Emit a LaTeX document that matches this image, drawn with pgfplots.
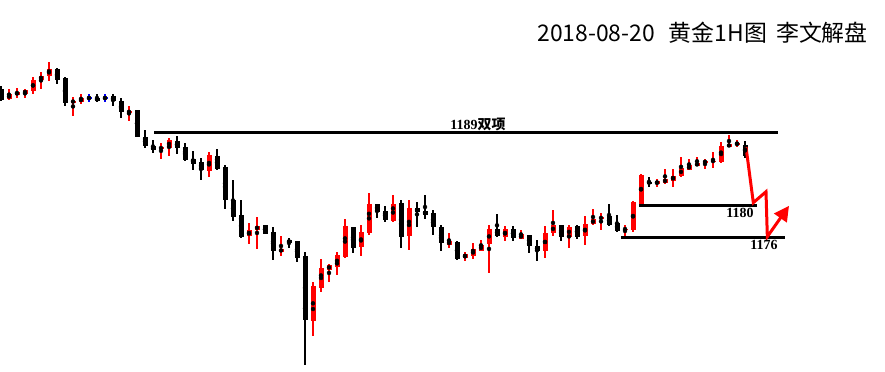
\documentclass[border=0pt]{standalone}
\usepackage{pgfplots}
\usepackage{pgfplotstable}
\pgfplotsset{compat=1.18}
\usepackage{fontspec}
\setmainfont{Liberation Serif}
\newfontfamily\cjk{Noto Sans CJK SC}
\usetikzlibrary{arrows.meta}

% x o h l c
\pgfplotstableread{
x o h l c
1 1193.25 1194.50 1193.13 1193.88
2 1193.75 1194.63 1193.38 1194.13
3 1193.91 1194.54 1193.38 1194.34
4 1194.29 1196.00 1193.91 1195.63
5 1195.66 1196.63 1194.54 1196.13
6 1196.16 1197.88 1195.54 1197.00
9 1192.88 1193.50 1191.16 1193.00
10 1192.88 1193.88 1192.66 1193.38
16 1191.54 1192.38 1190.54 1191.79
20 1187.04 1187.75 1185.79 1187.25
21 1187.16 1188.38 1186.16 1188.13
26 1184.29 1186.63 1183.54 1186.25
31 1176.16 1177.75 1175.16 1176.88
32 1176.91 1178.50 1174.54 1177.38
35 1174.16 1176.13 1173.66 1174.50
39 1165.54 1170.38 1163.66 1169.88
40 1169.66 1173.25 1169.16 1172.13
41 1171.91 1172.63 1170.41 1172.50
42 1172.29 1174.13 1171.29 1173.75
43 1173.50 1178.25 1173.41 1177.38
45 1174.79 1177.50 1173.66 1176.63
46 1176.54 1181.50 1176.29 1180.13
49 1178.00 1181.25 1177.91 1180.13
51 1176.16 1180.63 1174.41 1179.63
56 1175.04 1176.50 1174.66 1175.50
58 1173.41 1174.13 1173.04 1173.88
59 1173.66 1175.25 1173.29 1174.50
60 1174.29 1175.63 1174.29 1175.00
61 1175.16 1177.50 1171.54 1177.00
63 1176.04 1177.38 1175.54 1177.00
65 1175.79 1176.88 1175.79 1176.38
68 1174.29 1177.38 1173.41 1176.50
69 1176.54 1179.38 1176.16 1177.50
71 1176.04 1177.50 1174.66 1177.25
73 1176.16 1178.63 1175.04 1177.63
74 1177.63 1179.50 1177.50 1178.25
75 1178.29 1179.00 1176.91 1178.50
78 1176.96 1177.50 1176.04 1177.04
79 1176.91 1180.50 1176.66 1180.38
80 1180.16 1183.88 1180.16 1183.75
82 1182.66 1183.25 1182.29 1183.00
83 1182.79 1184.50 1182.66 1183.25
84 1183.04 1184.50 1182.29 1183.63
85 1183.66 1186.00 1183.54 1184.63
86 1184.41 1185.75 1184.41 1185.00
87 1184.91 1186.00 1184.91 1185.25
88 1185.29 1185.75 1184.54 1185.50
89 1185.46 1186.63 1184.66 1185.54
90 1185.38 1187.88 1185.25 1187.38
91 1187.25 1188.75 1187.25 1187.63
92 1187.50 1188.13 1187.25 1187.75
}\redcandles

\pgfplotstableread{
x o h l c
0 1194.50 1194.88 1193.00 1193.13
7 1197.00 1197.13 1195.16 1195.66
8 1195.88 1196.00 1192.41 1192.79
12 1193.38 1193.88 1192.88 1193.04
14 1193.63 1193.88 1192.41 1193.04
15 1193.00 1193.38 1190.91 1191.66
17 1191.88 1191.88 1188.50 1188.54
18 1188.50 1189.38 1187.13 1187.41
19 1187.34 1188.13 1186.54 1186.88
22 1188.00 1188.66 1186.41 1187.16
23 1187.25 1187.75 1185.54 1185.58
24 1185.75 1186.75 1184.41 1185.16
25 1185.38 1185.88 1183.16 1184.41
27 1186.13 1187.00 1184.41 1184.50
28 1184.75 1185.00 1179.54 1180.66
29 1180.63 1183.13 1178.04 1178.54
30 1178.75 1180.63 1175.91 1176.04
33 1177.50 1177.50 1176.41 1176.41
34 1176.63 1177.25 1173.13 1174.29
36 1175.63 1175.88 1174.66 1175.29
37 1175.50 1175.50 1172.91 1173.41
38 1173.63 1174.13 1160.04 1165.66
44 1177.25 1177.25 1174.04 1174.66
47 1180.13 1180.13 1178.41 1179.16
48 1179.25 1179.88 1177.91 1178.13
50 1180.25 1180.63 1174.66 1176.04
52 1179.63 1180.38 1177.29 1179.16
53 1179.25 1181.25 1178.25 1178.79
54 1179.00 1179.38 1176.29 1177.29
55 1177.25 1177.50 1174.29 1175.21
57 1175.41 1175.50 1173.13 1173.29
62 1177.00 1178.88 1176.04 1176.16
64 1177.00 1177.38 1175.54 1175.91
66 1176.25 1176.25 1174.04 1174.91
67 1174.88 1175.63 1173.04 1174.29
70 1177.50 1177.50 1175.54 1176.04
72 1177.38 1177.50 1175.79 1176.04
76 1178.63 1180.13 1177.38 1177.50
77 1177.75 1178.75 1176.66 1176.79
81 1182.83 1183.50 1182.29 1182.75
93 1187.50 1188.00 1185.88 1186.13
}\blackcandles

\pgfplotstableread{
x o h l c
11 1193.38 1193.88 1192.88 1193.38
13 1193.38 1193.88 1192.88 1193.38
}\bluecandles

\pgfplotsset{
  wick/.style={only marks, mark=none, forget plot,
    error bars/.cd, y dir=both, y explicit, error mark=none,
    error bar style={line width=1.1bp, #1}},
  body/.style={only marks, mark=none, forget plot,
    error bars/.cd, y dir=both, y explicit, error mark=none,
    error bar style={line width=5bp, #1}},
}

\begin{document}
\begin{tikzpicture}
\begin{axis}[
  scale only axis, width=885bp, height=372bp,
  xmin=-0.125, xmax=110.5, ymin=1159.125, ymax=1205.625,
  hide axis, clip=false,
]
% wicks
\addplot[wick=red] table[x=x, y expr=(\thisrow{h}+\thisrow{l})/2, y error expr=(\thisrow{h}-\thisrow{l})/2] {\redcandles};
\addplot[wick=black] table[x=x, y expr=(\thisrow{h}+\thisrow{l})/2, y error expr=(\thisrow{h}-\thisrow{l})/2] {\blackcandles};
\addplot[wick=blue] table[x=x, y expr=(\thisrow{h}+\thisrow{l})/2, y error expr=(\thisrow{h}-\thisrow{l})/2] {\bluecandles};
% bodies
\addplot[body=red] table[x=x, y expr=(\thisrow{o}+\thisrow{c})/2, y error expr={max(abs(\thisrow{o}-\thisrow{c})/2,0.07)}] {\redcandles};
\addplot[body=black] table[x=x, y expr=(\thisrow{o}+\thisrow{c})/2, y error expr={max(abs(\thisrow{o}-\thisrow{c})/2,0.07)}] {\blackcandles};
\addplot[body=blue] table[x=x, y expr=(\thisrow{o}+\thisrow{c})/2, y error expr={max(abs(\thisrow{o}-\thisrow{c})/2,0.07)}] {\bluecandles};

% support / resistance lines
\addplot[black, line width=3bp, forget plot] coordinates {(19.125,1189) (97.125,1189)};
\addplot[black, line width=3bp, forget plot] coordinates {(79.75,1180) (94.5,1180)};
\addplot[black, line width=3bp, forget plot] coordinates {(77.5,1176) (98,1176)};

% projected path
\addplot[red, line width=3bp, line join=miter, forget plot, -{Triangle[length=15bp,width=15bp]}]
  coordinates {(93.125,1187.25) (94.04,1180.29) (95.625,1181.66) (95.79,1176.04) (98.5,1179.9)};

\node[font=\bfseries\fontsize{14}{14}\selectfont] at (axis cs:59.625,1190.1) {1189{\cjk 双项}};
\node[font=\bfseries\fontsize{14}{14}\selectfont] at (axis cs:92.375,1179.0) {1180};
\node[font=\bfseries\fontsize{14}{14}\selectfont] at (axis cs:95.375,1175.0) {1176};
\node[anchor=east, font=\cjk\fontsize{23}{23}\selectfont, inner sep=0pt] at (axis cs:108.375,1201.5) {2018-08-20\hspace{14bp}黄金1H图\hspace{9bp}李文解盘};
\end{axis}
\pgfresetboundingbox
\path (current axis.south west) rectangle (current axis.north east);
\end{tikzpicture}
\end{document}
